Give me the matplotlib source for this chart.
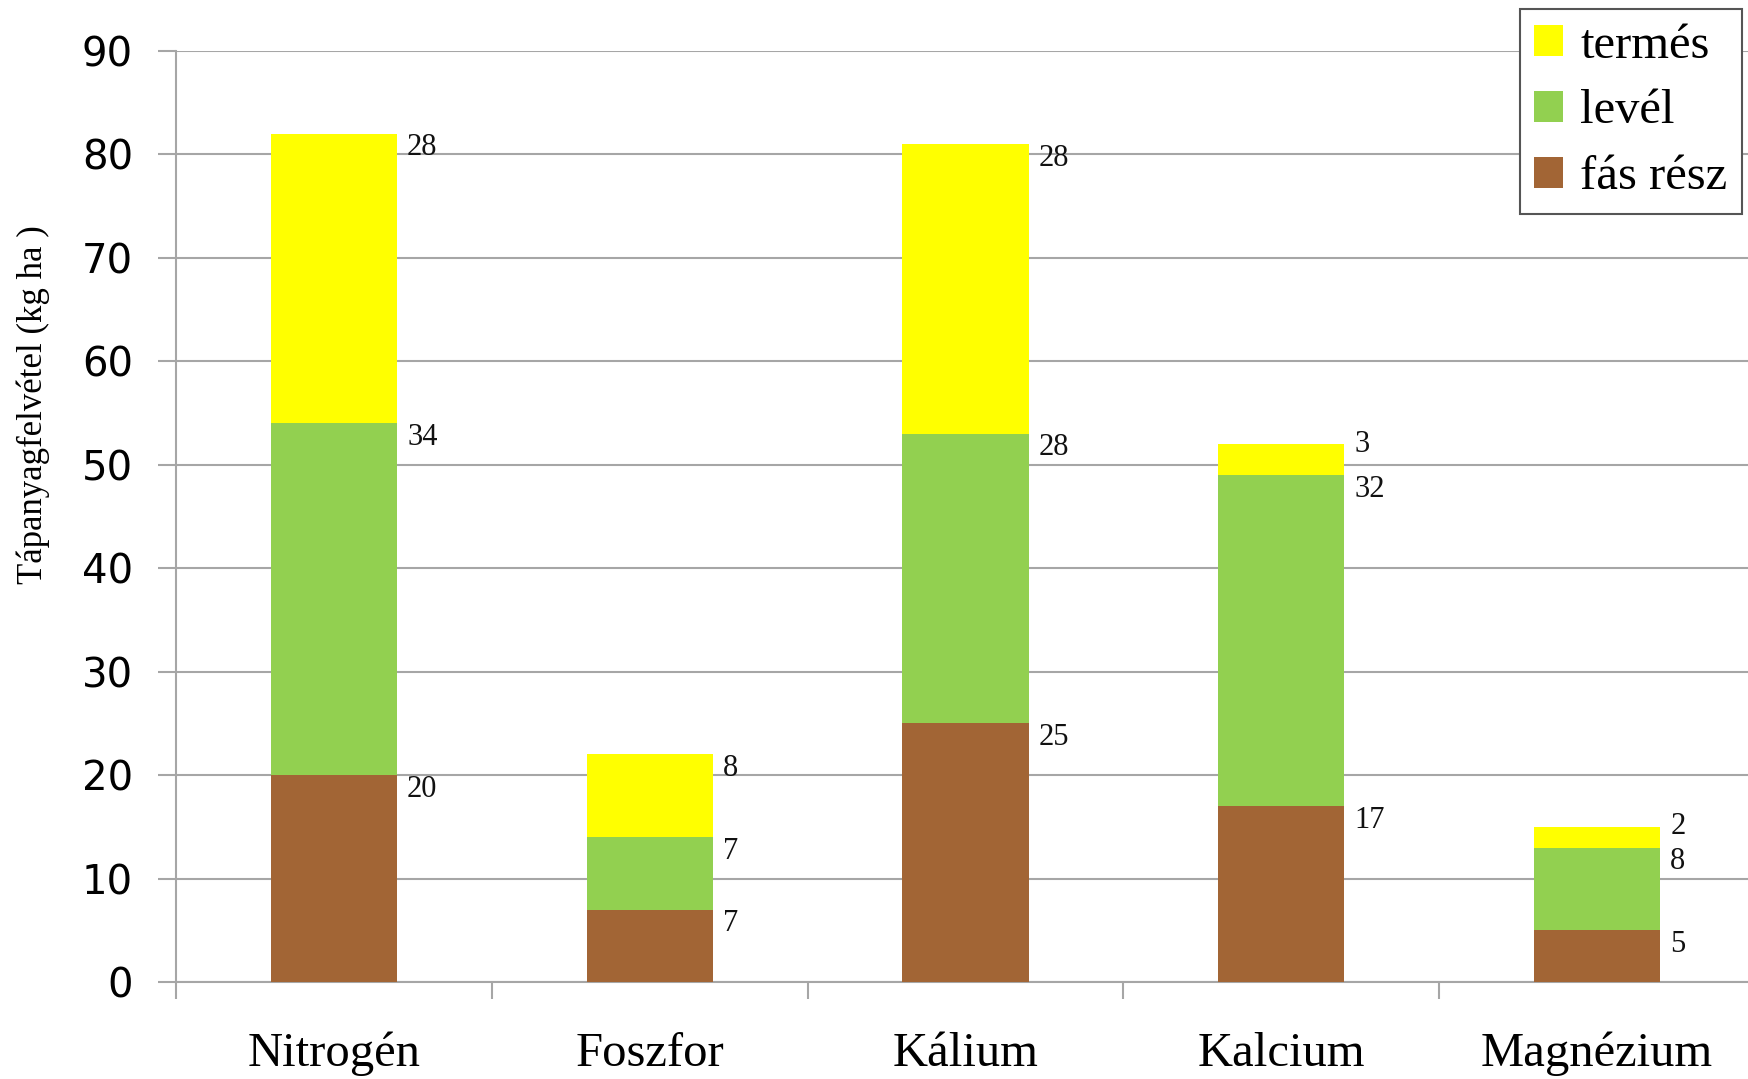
import numpy as np
import matplotlib.pyplot as plt
from matplotlib.patches import Patch

# nutrient uptake by plant part (kg/ha)
categories = ["Nitrogén", "Foszfor", "Kálium", "Kalcium", "Magnézium"]
fas_resz = [20, 7, 25, 17, 5]
level = [34, 7, 28, 32, 8]
termes = [28, 8, 28, 3, 2]

series = [("fás rész", fas_resz, "#A26535"),
          ("levél", level, "#92D050"),
          ("termés", termes, "#FFFF00")]

SERIF = ["Liberation Serif", "DejaVu Serif"]
GRID = "#A6A6A6"

fig = plt.figure(figsize=(17.49, 10.79), dpi=100)
ax = fig.add_axes([176 / 1749, 97 / 1079, (1755 - 176) / 1749, (982 - 51) / 1079])

x = np.arange(len(categories))
bottom = np.zeros(len(categories))
for i, (name, vals, color) in enumerate(series):
    vals = np.array(vals, dtype=float)
    ax.bar(x, vals, width=0.4, bottom=bottom, color=color, zorder=3)
    tops = bottom + vals
    for xi, top, v in zip(x, tops, vals):
        # thin top segments: centre the label on the top edge so it clears the one below
        dy = 0 if (i == len(series) - 1 and v <= 3) else -14
        ax.annotate(f"{v:g}", xy=(xi + 0.2, top), xytext=(10, dy),
                    textcoords="offset pixels", ha="left", va="center",
                    fontsize=22, family=SERIF, color="#111111")
    bottom = tops

ax.set_xlim(-0.5, len(categories) - 0.5)
ax.set_ylim(0, 90)
ax.set_yticks(np.arange(0, 91, 10))
ax.yaxis.grid(True, color=GRID, linewidth=1.5, zorder=0)
ax.set_axisbelow(True)

for side in ["top", "right"]:
    ax.spines[side].set_visible(False)
for side in ["left", "bottom"]:
    ax.spines[side].set_color(GRID)
    ax.spines[side].set_linewidth(1.5)

# category boundary ticks below the axis
ax.set_xticks(np.arange(-0.5, len(categories) + 0.5, 1.0))
ax.set_xticklabels([])
ax.set_xticks(x, minor=True)
ax.set_xticklabels(categories, minor=True, fontsize=35, family=SERIF)
ax.tick_params(axis="x", which="major", length=12, width=1.5, color=GRID)
ax.tick_params(axis="x", which="minor", length=0, pad=36)
ax.tick_params(axis="y", length=13, width=1.5, color=GRID, labelsize=29, pad=18)

ax.set_ylabel("Tápanyagfelvétel (kg ha )", fontsize=25, family=SERIF)
ax.yaxis.set_label_coords(-0.08, 0.62)

handles = [Patch(facecolor=c, edgecolor="none", label=n) for n, _, c in reversed(series)]
leg = fig.legend(handles=handles, loc="upper right",
                 bbox_to_anchor=(1742 / 1749, 1 - 9 / 1079),
                 prop={"family": SERIF, "size": 35}, fancybox=False,
                 framealpha=1, edgecolor="#555555", handlelength=0.6,
                 handleheight=0.6, handletextpad=0.35, labelspacing=0.45,
                 borderpad=0.3, borderaxespad=0)
leg.get_frame().set_linewidth(1.5)

fig.savefig("out.png", dpi=100)
